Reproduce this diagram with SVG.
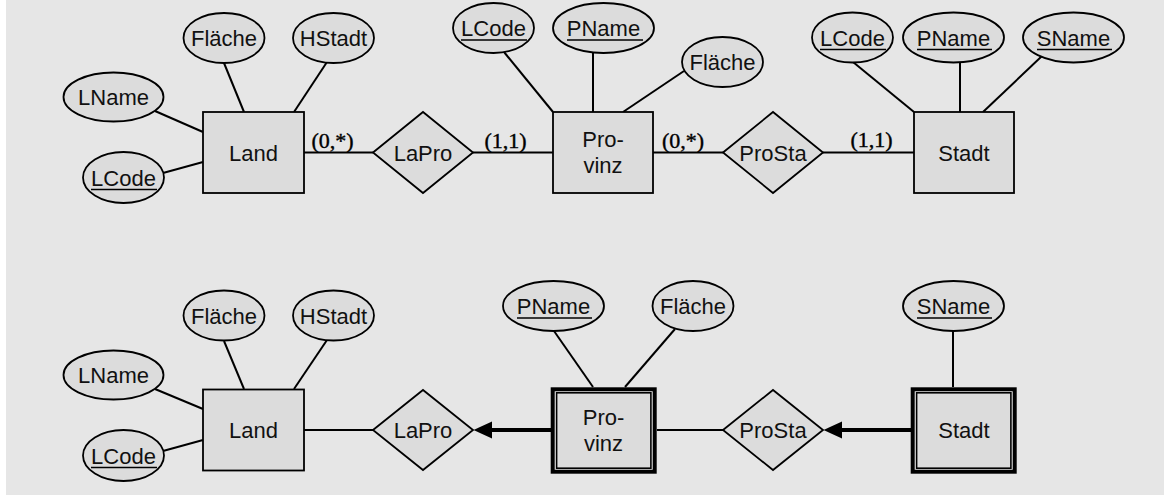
<svg xmlns="http://www.w3.org/2000/svg" width="1164" height="495" viewBox="0 0 1164 495">
<defs>
<style>
.bg{fill:#e6e6e6}
.ent{fill:#dcdcdc;stroke:#000;stroke-width:1.8}
.wout{fill:#f2f2f2;stroke:#000;stroke-width:4}
.win{fill:#dcdcdc;stroke:#000;stroke-width:1.6}
.attr{fill:#dcdcdc;stroke:#000;stroke-width:1.8}
.rel{fill:#dcdcdc;stroke:#000;stroke-width:1.8}
.lbl{font-family:"Liberation Sans",Arial,sans-serif;font-size:22px;fill:#111;text-anchor:middle}
.card{font-family:"Liberation Serif","Times New Roman",serif;font-size:22px;fill:#000;stroke:#000;stroke-width:0.4;text-anchor:middle}
.ln{stroke:#000;stroke-width:2;fill:none}
.thick{stroke:#000;stroke-width:4;fill:none}
.ul{stroke:#000;stroke-width:1.6}
.head{fill:#000}
</style>
</defs>
<rect class="bg" x="6" y="0" width="1158" height="495"/>

<g id="connectors">
<!-- top row -->
<line class="ln" x1="224" y1="63" x2="244" y2="112"/>
<line class="ln" x1="327" y1="62" x2="294" y2="112"/>
<line class="ln" x1="155" y1="111" x2="203" y2="132"/>
<line class="ln" x1="163" y1="173" x2="203" y2="162"/>
<line class="ln" x1="304" y1="152.5" x2="373" y2="152.5"/>
<line class="ln" x1="473" y1="152.5" x2="553" y2="152.5"/>
<line class="ln" x1="504" y1="52" x2="553" y2="112"/>
<line class="ln" x1="593" y1="53" x2="593" y2="112"/>
<line class="ln" x1="684" y1="71" x2="623" y2="112"/>
<line class="ln" x1="653" y1="152.5" x2="723" y2="152.5"/>
<line class="ln" x1="823" y1="152.5" x2="914" y2="152.5"/>
<line class="ln" x1="853" y1="62" x2="914" y2="112"/>
<line class="ln" x1="960" y1="62" x2="960" y2="112"/>
<line class="ln" x1="1042" y1="56" x2="983" y2="112"/>
<!-- bottom row -->
<line class="ln" x1="224" y1="341" x2="244" y2="389"/>
<line class="ln" x1="327" y1="340" x2="294" y2="389"/>
<line class="ln" x1="155" y1="389" x2="203" y2="409"/>
<line class="ln" x1="163" y1="451" x2="203" y2="440"/>
<line class="ln" x1="304" y1="430" x2="373" y2="430"/>
<line class="thick" x1="551" y1="430" x2="480" y2="430"/>
<path class="head" d="M473.5,430 L492,421.5 L492,438.5 Z"/>
<line class="ln" x1="554" y1="331" x2="593" y2="387"/>
<line class="ln" x1="675" y1="329" x2="625" y2="387"/>
<line class="ln" x1="657" y1="430" x2="723" y2="430"/>
<line class="thick" x1="911" y1="430" x2="830" y2="430"/>
<path class="head" d="M823.5,430 L842,421.5 L842,438.5 Z"/>
<line class="ln" x1="953" y1="331" x2="953" y2="387"/>
</g>

<g id="cardinalities">
<text class="card" x="332.5" y="148">(0,*)</text>
<text class="card" x="505.5" y="148">(1,1)</text>
<text class="card" x="683" y="148">(0,*)</text>
<text class="card" x="871.5" y="147">(1,1)</text>
</g>

<!-- top row nodes -->
<g id="land1"><rect class="ent" x="203" y="112" width="101" height="81"/><text class="lbl" x="253.5" y="160.5">Land</text></g>
<g id="land1-flaeche"><ellipse class="attr" cx="224" cy="38" rx="40.5" ry="25"/><text class="lbl" x="224" y="46">Fläche</text></g>
<g id="land1-hstadt"><ellipse class="attr" cx="333.5" cy="38" rx="40.5" ry="25"/><text class="lbl" x="333.5" y="46">HStadt</text></g>
<g id="land1-lname"><ellipse class="attr" cx="113.5" cy="97" rx="50" ry="24.5"/><text class="lbl" x="113.5" y="105">LName</text></g>
<g id="land1-lcode"><ellipse class="attr" cx="123.5" cy="177.5" rx="40.5" ry="25.5"/><text class="lbl" x="123.5" y="185.5">LCode</text><line class="ul" x1="91" y1="189.5" x2="157" y2="189.5"/></g>
<g id="lapro1"><polygon class="rel" points="373,152.5 423,112 473,152.5 423,193"/><text class="lbl" x="423" y="160.5">LaPro</text></g>
<g id="provinz1"><rect class="ent" x="553" y="112" width="100" height="81"/><text class="lbl" x="603" y="147">Pro-</text><text class="lbl" x="603" y="173">vinz</text></g>
<g id="provinz1-lcode"><ellipse class="attr" cx="493.5" cy="28" rx="40.5" ry="25"/><text class="lbl" x="493.5" y="36">LCode</text><line class="ul" x1="461" y1="40" x2="527" y2="40"/></g>
<g id="provinz1-pname"><ellipse class="attr" cx="603.5" cy="28" rx="50.5" ry="25"/><text class="lbl" x="603.5" y="36">PName</text><line class="ul" x1="567" y1="40" x2="643" y2="40"/></g>
<g id="provinz1-flaeche"><ellipse class="attr" cx="722.5" cy="62" rx="40.5" ry="25"/><text class="lbl" x="722.5" y="70">Fläche</text></g>
<g id="prosta1"><polygon class="rel" points="723,152.5 773,112 823,152.5 773,193"/><text class="lbl" x="773" y="160.5">ProSta</text></g>
<g id="stadt1"><rect class="ent" x="914" y="112" width="100" height="81"/><text class="lbl" x="964" y="160.5">Stadt</text></g>
<g id="stadt1-lcode"><ellipse class="attr" cx="852.5" cy="37.5" rx="40.5" ry="25"/><text class="lbl" x="852.5" y="45.5">LCode</text><line class="ul" x1="820" y1="49.5" x2="886" y2="49.5"/></g>
<g id="stadt1-pname"><ellipse class="attr" cx="953.5" cy="37.5" rx="50.5" ry="25"/><text class="lbl" x="953.5" y="45.5">PName</text><line class="ul" x1="917" y1="49.5" x2="992" y2="49.5"/></g>
<g id="stadt1-sname"><ellipse class="attr" cx="1073.5" cy="37.5" rx="50.5" ry="25"/><text class="lbl" x="1073.5" y="45.5">SName</text><line class="ul" x1="1037" y1="49.5" x2="1112" y2="49.5"/></g>

<!-- bottom row nodes -->
<g id="land2"><rect class="ent" x="203" y="389.5" width="101" height="81"/><text class="lbl" x="253.5" y="438">Land</text></g>
<g id="land2-flaeche"><ellipse class="attr" cx="224" cy="315.5" rx="40.5" ry="25"/><text class="lbl" x="224" y="323.5">Fläche</text></g>
<g id="land2-hstadt"><ellipse class="attr" cx="333.5" cy="315.5" rx="40.5" ry="25"/><text class="lbl" x="333.5" y="323.5">HStadt</text></g>
<g id="land2-lname"><ellipse class="attr" cx="113.5" cy="375" rx="50" ry="24.5"/><text class="lbl" x="113.5" y="383">LName</text></g>
<g id="land2-lcode"><ellipse class="attr" cx="123.5" cy="455.5" rx="40.5" ry="25.5"/><text class="lbl" x="123.5" y="463.5">LCode</text><line class="ul" x1="91" y1="467.5" x2="157" y2="467.5"/></g>
<g id="lapro2"><polygon class="rel" points="373,430 423,390 473,430 423,470"/><text class="lbl" x="423" y="438">LaPro</text></g>
<g id="provinz2"><rect class="wout" x="552.7" y="389.3" width="102" height="82.4"/><rect class="win" x="556.6" y="392.8" width="94.3" height="75.4"/><text class="lbl" x="603.5" y="424.5">Pro-</text><text class="lbl" x="603.5" y="450.5">vinz</text></g>
<g id="provinz2-pname"><ellipse class="attr" cx="553.5" cy="306" rx="50.5" ry="25"/><text class="lbl" x="553.5" y="314">PName</text><line class="ul" x1="517" y1="318" x2="592" y2="318"/></g>
<g id="provinz2-flaeche"><ellipse class="attr" cx="693" cy="306" rx="40.5" ry="25"/><text class="lbl" x="693" y="314">Fläche</text></g>
<g id="prosta2"><polygon class="rel" points="723,430 773,390 823,430 773,470"/><text class="lbl" x="773" y="438">ProSta</text></g>
<g id="stadt2"><rect class="wout" x="912.7" y="389.3" width="102" height="82.4"/><rect class="win" x="916.6" y="392.8" width="94.3" height="75.4"/><text class="lbl" x="964" y="438">Stadt</text></g>
<g id="stadt2-sname"><ellipse class="attr" cx="953.5" cy="306" rx="50.5" ry="25"/><text class="lbl" x="953.5" y="314">SName</text><line class="ul" x1="917" y1="318" x2="992" y2="318"/></g>
</svg>
